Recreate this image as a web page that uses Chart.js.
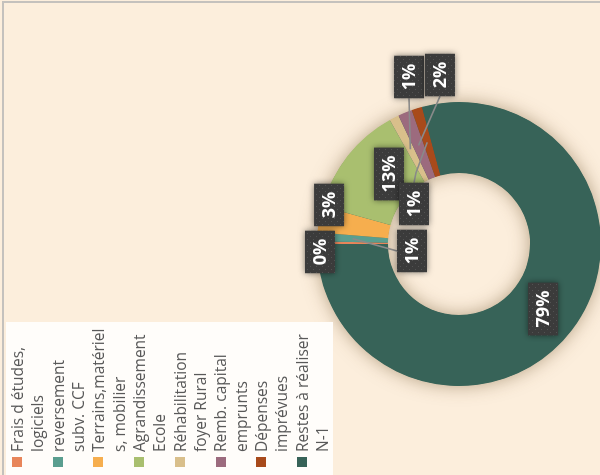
<!DOCTYPE html>
<html>
<head>
<meta charset="utf-8">
<script src="https://cdn.jsdelivr.net/npm/chart.js@4.4.1/dist/chart.umd.min.js"></script>
<style>
  html, body { margin: 0; padding: 0; background: #FCEEDC; }
  #frame { position: relative; width: 600px; height: 475px; overflow: hidden; background: #FCEEDC; }
  #rot { position: absolute; left: 0; top: 0; width: 475px; height: 610px;
         transform-origin: 0 0; transform: translate(0, 475px) rotate(-90deg); }
  #c { position: absolute; left: 0; top: 0; }
  #legend { position: absolute; left: 0; top: 6px; width: 153px; height: 327px; background: #FFFDFA; z-index: 2; }
  .sw { position: absolute; left: 8px; width: 10px; height: 10px; }
  .lt { position: absolute; left: 23px; font: 15.5px 'Open Sans', sans-serif; line-height: 20.35px;
        color: #595959; white-space: nowrap; }
  #edgeTop { position: absolute; left: 2px; top: 1px; width: 598px; height: 2px; background: #C4C1BD; z-index: 5; }
  #edgeLeft { position: absolute; left: 2px; top: 1px; width: 2px; height: 474px; background: #C4C1BD; z-index: 5; }
</style>
</head>
<body>
<div id="frame">
  <div id="rot">
    <canvas id="c" width="475" height="610"></canvas>
    <div id="legend"></div>
  </div>
  <div id="edgeTop"></div>
  <div id="edgeLeft"></div>
</div>
<script>
// ---- data ----
const categories = [
  ["Frais d études,", "logiciels"],
  ["reversement", "subv. CCF"],
  ["Terrains,matériel", "s, mobilier"],
  ["Agrandissement", "Ecole"],
  ["Réhabilitation", "foyer Rural"],
  ["Remb. capital", "emprunts"],
  ["Dépenses", "imprévues"],
  ["Restes à réaliser", "N-1"]
];
const shares = [0.3, 1.0, 3.0, 12.6, 1.1, 1.6, 1.2, 79.2];
const sliceColors = ["#E8855A", "#5A9E8F", "#F6AE4E", "#A9BF6F", "#D9BF8B", "#9C6B7E", "#A84A1B", "#376358"];

// label placement (layout only): offset from ring centre in units of outer radius, leader side
const labelLayout = [
  { dx: -0.056, dy: -0.979, leader: null },
  { dx: -0.049, dy: -0.331, leader: "top" },
  { dx:  0.275, dy: -0.915, leader: null },
  { dx:  0.493, dy: -0.493, leader: null },
  { dx:  1.176, dy: -0.352, leader: "left" },
  { dx:  1.190, dy: -0.134, leader: "left" },
  { dx:  0.282, dy: -0.317, leader: "right" },
  { dx: -0.458, dy:  0.592, leader: null }
];

// ---- plugins ----
const ringShadow = {
  id: 'ringShadow',
  beforeDatasetsDraw(chart) {
    const meta = chart.getDatasetMeta(0);
    if (!meta.data.length) return;
    const a = meta.data[0];
    const ctx = chart.ctx;
    ctx.save();
    ctx.shadowColor = 'rgba(110,80,40,0.5)';
    ctx.shadowBlur = 18;
    ctx.beginPath();
    ctx.arc(a.x, a.y, a.outerRadius - 0.5, 0, Math.PI * 2);
    ctx.arc(a.x, a.y, a.innerRadius + 0.5, 0, Math.PI * 2, true);
    ctx.closePath();
    ctx.fillStyle = '#376358';
    ctx.fill();
    ctx.restore();
  }
};

function makePattern(ctx) {
  const p = document.createElement('canvas');
  p.width = 6; p.height = 6;
  const pc = p.getContext('2d');
  pc.fillStyle = '#3B3B3B';
  pc.fillRect(0, 0, 6, 6);
  pc.fillStyle = '#525252';
  pc.fillRect(1, 1, 1, 1);
  pc.fillRect(4, 4, 1, 1);
  return ctx.createPattern(p, 'repeat');
}

const boxLabels = {
  id: 'boxLabels',
  afterDatasetsDraw(chart) {
    const meta = chart.getDatasetMeta(0);
    const ctx = chart.ctx;
    const data = chart.data.datasets[0].data;
    const total = data.reduce((s, v) => s + v, 0);
    const pattern = makePattern(ctx);
    ctx.save();
    ctx.font = "bold 18px 'Open Sans', sans-serif";
    const items = meta.data.map((arc, i) => {
      const R = arc.outerRadius;
      const lay = labelLayout[i];
      const cx = arc.x + lay.dx * R;
      const cy = arc.y + lay.dy * R;
      const txt = Math.round(data[i] / total * 100) + '%';
      const w = ctx.measureText(txt).width + 16;
      const h = 30;
      return { arc, lay, cx, cy, txt, w, h };
    });
    // leader lines
    ctx.strokeStyle = '#8A8A8A';
    ctx.lineWidth = 1.6;
    items.forEach(it => {
      if (!it.lay.leader) return;
      const a = it.arc;
      const mid = (a.startAngle + a.endAngle) / 2;
      const rr = (a.innerRadius + a.outerRadius) / 2;
      const px = a.x + Math.cos(mid) * rr;
      const py = a.y + Math.sin(mid) * rr;
      ctx.beginPath();
      if (it.lay.leader === 'top') {
        ctx.moveTo(it.cx, it.cy - it.h / 2);
      } else if (it.lay.leader === 'left') {
        ctx.moveTo(it.cx - it.w / 2, it.cy);
      } else {
        ctx.moveTo(it.cx + it.w / 2, it.cy);
        ctx.lineTo(it.cx + it.w / 2 + 10, it.cy + 2);
      }
      ctx.lineTo(px, py);
      ctx.stroke();
    });
    // boxes
    items.forEach(it => {
      ctx.save();
      ctx.shadowColor = 'rgba(0,0,0,0.5)';
      ctx.shadowBlur = 6;
      ctx.fillStyle = pattern;
      ctx.fillRect(it.cx - it.w / 2, it.cy - it.h / 2, it.w, it.h);
      ctx.restore();
      ctx.fillStyle = '#FFFFFF';
      ctx.textAlign = 'center';
      ctx.textBaseline = 'middle';
      ctx.fillText(it.txt, it.cx, it.cy + 1);
    });
    ctx.restore();
  }
};

const chart = new Chart(document.getElementById('c'), {
  type: 'doughnut',
  data: {
    labels: categories,
    datasets: [{
      data: shares,
      backgroundColor: sliceColors,
      borderWidth: 0,
      hoverOffset: 0
    }]
  },
  options: {
    responsive: false,
    devicePixelRatio: 1,
    animation: false,
    cutout: '50%',
    rotation: 0,
    layout: { padding: { left: 89, right: 102, top: 317, bottom: 9 } },
    plugins: { legend: { display: false }, tooltip: { enabled: false } },
    events: []
  },
  plugins: [ringShadow, boxLabels]
});

// HTML legend built from the chart's own labels and colours
const legendEl = document.getElementById('legend');
chart.data.labels.forEach((lines, i) => {
  const sw = document.createElement('div');
  sw.className = 'sw';
  sw.style.top = (6 + 40.7 * i) + 'px';
  sw.style.background = chart.data.datasets[0].backgroundColor[i];
  legendEl.appendChild(sw);
  const t = document.createElement('div');
  t.className = 'lt';
  t.style.top = (0.8 + 40.7 * i) + 'px';
  t.innerHTML = lines.map(s => s.replace(/&/g, '&amp;').replace(/</g, '&lt;')).join('<br>');
  legendEl.appendChild(t);
});
</script>
</body>
</html>
